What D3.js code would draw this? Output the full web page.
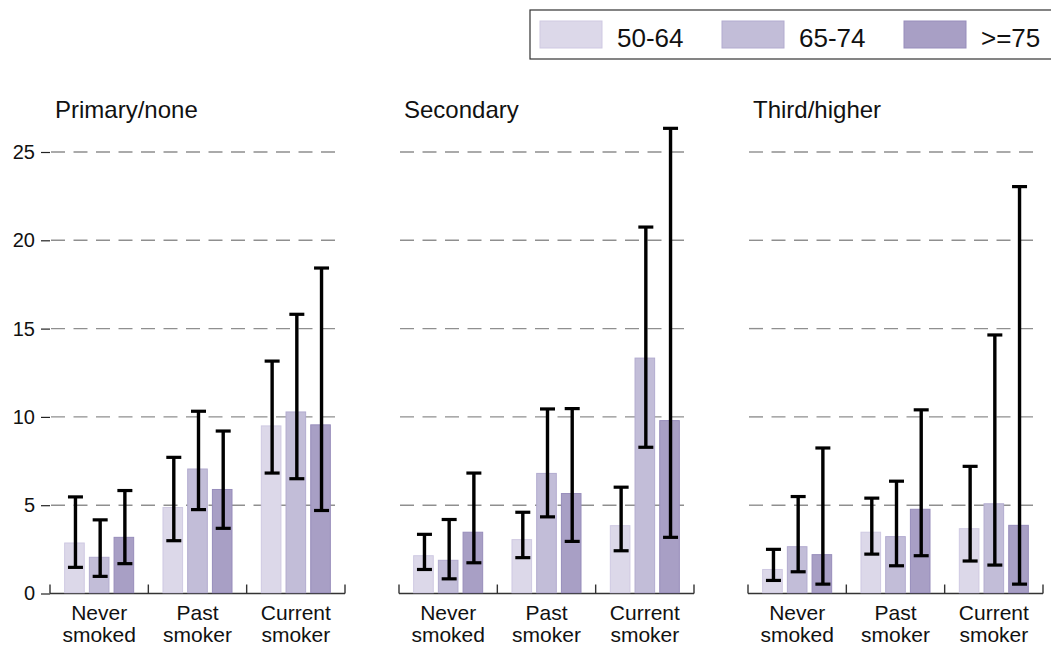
<!DOCTYPE html>
<html>
<head>
<meta charset="utf-8">
<script src="https://cdn.jsdelivr.net/npm/d3@7"></script>
<style>
  body { margin: 0; background: #fff; }
  svg { font-family: "Liberation Sans", Arial, sans-serif; }
</style>
</head>
<body>
<svg id="chart"></svg>
<script>
// panels (education), groups (smoking), series (age)
const panels = ['Primary/none', 'Secondary', 'Third/higher'];
const smoking = [['Never', 'smoked'], ['Past', 'smoker'], ['Current', 'smoker']];
const ages = ['50-64', '65-74', '>=75'];
const yTicks = [0, 5, 10, 15, 20, 25];

// estimates[panel][smoking][age]
const estimate = [
  [[2.86, 2.05, 3.18], [4.87, 7.05, 5.89], [9.49, 10.28, 9.55]],
  [[2.14, 1.88, 3.47], [3.05, 6.80, 5.66], [3.84, 13.33, 9.79]],
  [[1.36, 2.65, 2.20], [3.47, 3.22, 4.77], [3.67, 5.08, 3.86]]
];
const lower = [
  [[1.48, 0.97, 1.69], [2.99, 4.75, 3.69], [6.82, 6.50, 4.70]],
  [[1.36, 0.83, 1.74], [2.03, 4.34, 2.95], [2.42, 8.28, 3.18]],
  [[0.74, 1.23, 0.53], [2.23, 1.57, 2.14], [1.84, 1.61, 0.53]]
];
const upper = [
  [[5.47, 4.17, 5.83], [7.71, 10.32, 9.20], [13.16, 15.81, 18.43]],
  [[3.35, 4.19, 6.82], [4.60, 10.45, 10.47], [6.02, 20.75, 26.34]],
  [[2.50, 5.49, 8.24], [5.40, 6.36, 10.40], [7.20, 14.64, 23.04]]
];

const fills = ['#dcd8e9', '#c2bdd8', '#a89fc5'];
const strokes = ['#cfc9e2', '#b2abcf', '#978dbb'];

class facetBars {
  constructor(_config) {
    this.config = {
      parentElement: _config.parentElement,
      containerWidth: _config.containerWidth || 1051,
      containerHeight: _config.containerHeight || 646
    };
    this.initVis();
  }

  initVis() {
    let vis = this;
    vis.svg = d3.select(vis.config.parentElement)
      .attr('width', vis.config.containerWidth)
      .attr('height', vis.config.containerHeight);

    vis.xPanel = d3.scaleBand().domain(panels).range([50, 1043]).paddingInner(54 / 349);
    vis.xGroup = d3.scaleBand().domain(d3.range(3)).range([0, vis.xPanel.bandwidth()])
      .paddingInner(0.288).paddingOuter(0.144);
    vis.xAge = d3.scaleBand().domain(d3.range(3)).range([0, vis.xGroup.bandwidth()])
      .paddingInner(0.166);
    vis.y = d3.scaleLinear().domain([0, 25]).range([593.5, 152]);

    vis.drawLegend();
    vis.updateVis();
  }

  drawLegend() {
    let vis = this;
    const lg = vis.svg.append('g');
    lg.append('rect')
      .attr('x', 530).attr('y', 10).attr('width', 540).attr('height', 49)
      .attr('fill', '#fff').attr('stroke', '#333').attr('stroke-width', 1.2);
    const item = lg.selectAll('.leg').data(ages).enter().append('g')
      .attr('transform', (d, i) => `translate(${540 + i * 182},21)`);
    item.append('rect')
      .attr('width', 62).attr('height', 27)
      .attr('fill', (d, i) => fills[i]).attr('stroke', (d, i) => strokes[i]);
    item.append('text')
      .attr('x', 77).attr('y', 25.5)
      .style('font-size', '26px').attr('fill', '#111')
      .text(d => d);
  }

  updateVis() {
    let vis = this;
    const y = vis.y;
    const step = vis.xGroup.step();

    panels.forEach((p, pi) => {
      const x0 = vis.xPanel(p);
      const w = vis.xPanel.bandwidth();
      const g = vis.svg.append('g').attr('transform', `translate(${x0},0)`);

      g.append('text')
        .attr('x', 5).attr('y', 118)
        .style('font-size', '24px').attr('fill', '#111')
        .text(p);

      // dashed grid
      g.selectAll('.grid').data(yTicks.filter(t => t > 0)).enter().append('line')
        .attr('x1', 1).attr('x2', w - 2)
        .attr('y1', d => y(d)).attr('y2', d => y(d))
        .attr('stroke', '#8f8f8f').attr('stroke-width', 1.4)
        .attr('stroke-dasharray', '14,8.5');

      if (pi === 0) {
        const ax = g.append('g')
          .call(d3.axisLeft(y).tickValues(yTicks).tickSize(9).tickPadding(6));
        ax.select('.domain').remove();
        ax.selectAll('.tick line').attr('stroke', '#222').attr('stroke-width', 1.2);
        ax.selectAll('.tick text')
          .style('font-size', '20px').style('font-family', 'Liberation Sans, Arial, sans-serif')
          .attr('fill', '#111');
      }

      // x axis line + boundary ticks
      g.append('line')
        .attr('x1', 0).attr('x2', w).attr('y1', y(0)).attr('y2', y(0))
        .attr('stroke', '#333').attr('stroke-width', 1.6);
      const bounds = d3.range(3).map(k => vis.xGroup(k) - step * vis.xGroup.paddingInner() / 2).concat([w]);
      g.selectAll('.xt').data(bounds).enter().append('line')
        .attr('x1', d => d).attr('x2', d => d)
        .attr('y1', y(0)).attr('y2', y(0) - 9)
        .attr('stroke', '#333').attr('stroke-width', 1.4);

      smoking.forEach((s, si) => {
        const gx = vis.xGroup(si);
        const cells = ages.map((a, ai) => ({
          ai,
          v: estimate[pi][si][ai],
          lo: lower[pi][si][ai],
          hi: upper[pi][si][ai]
        }));

        g.selectAll(`.bar${si}`).data(cells).enter().append('rect')
          .attr('x', d => gx + vis.xAge(d.ai) + 0.5)
          .attr('width', vis.xAge.bandwidth() - 1)
          .attr('y', d => y(d.v))
          .attr('height', d => y(0) - y(d.v) - 0.8)
          .attr('fill', d => fills[d.ai])
          .attr('stroke', d => strokes[d.ai]).attr('stroke-width', 1);

        const eb = g.selectAll(`.err${si}`).data(cells).enter().append('g')
          .attr('transform', d => `translate(${gx + vis.xAge(d.ai) + vis.xAge.bandwidth() / 2 + 1},0)`);
        eb.append('line')
          .attr('y1', d => y(d.lo)).attr('y2', d => y(d.hi))
          .attr('stroke', '#000').attr('stroke-width', 3.4);
        ['lo', 'hi'].forEach(k => {
          eb.append('line')
            .attr('x1', -7.5).attr('x2', 7.5)
            .attr('y1', d => y(d[k])).attr('y2', d => y(d[k]))
            .attr('stroke', '#000').attr('stroke-width', 3.2);
        });

        const lbl = g.append('text')
          .attr('text-anchor', 'middle')
          .style('font-size', '21px').attr('fill', '#111');
        s.forEach((line, li) => {
          lbl.append('tspan')
            .attr('x', gx + vis.xGroup.bandwidth() / 2)
            .attr('y', 620 + li * 22)
            .text(line);
        });
      });
    });
  }
}

new facetBars({ parentElement: '#chart' });
</script>
</body>
</html>
